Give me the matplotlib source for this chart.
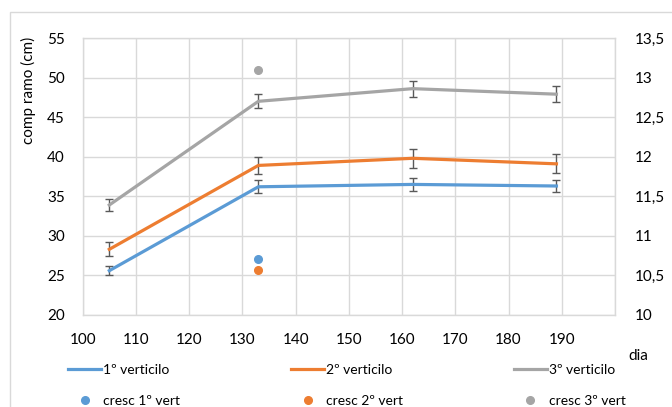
import matplotlib
matplotlib.use("Agg")
import matplotlib.pyplot as plt
from matplotlib.patches import Rectangle
from matplotlib.lines import Line2D

plt.rcParams['font.family'] = ['Lato', 'DejaVu Sans']

# data
dias = [105, 133, 162, 189]
vert1 = [25.6, 36.2, 36.5, 36.3]
vert2 = [28.3, 38.9, 39.8, 39.1]
vert3 = [33.9, 47.0, 48.6, 47.9]
err1 = [0.6, 0.8, 0.8, 0.8]
err2 = [0.9, 1.1, 1.2, 1.2]
err3 = [0.75, 0.9, 1.0, 1.0]

cresc_dia = [133]
cresc1 = [10.71]
cresc2 = [10.57]
cresc3 = [13.09]

left_ticks = [20, 25, 30, 35, 40, 45, 50, 55]
right_ticks = [10, 10.5, 11, 11.5, 12, 12.5, 13, 13.5]
right_labels = ['10', '10,5', '11', '11,5', '12', '12,5', '13', '13,5']
x_ticks = [100, 110, 120, 130, 140, 150, 160, 170, 180, 190, 200]
x_labels = ['100', '110', '120', '130', '140', '150', '160', '170', '180', '190', '']

c1, c2, c3 = '#5B9BD5', '#ED7D31', '#A5A5A5'
grid_c = '#D9D9D9'
txt_c = '#000000'

fig = plt.figure(figsize=(6.72, 4.07), dpi=100)
W, H = 672, 407
ax = fig.add_axes([82.7 / W, 1 - 315 / H, (615 - 82.7) / W, (315 - 38) / H])

# chart border
fig.patches.append(Rectangle((9.5 / W, -0.1), 1.2, 1 - 12 / H + 0.1, transform=fig.transFigure,
                             fill=False, edgecolor='#D9D9D9', linewidth=1.0, zorder=0))

ax.set_xlim(100, 200)
ax.set_ylim(20, 55)
ax.set_xticks(x_ticks)
ax.set_xticklabels(x_labels)
ax.set_yticks(left_ticks)
ax.grid(True, color=grid_c, linewidth=1.0)
ax.set_axisbelow(True)
for s in ax.spines.values():
    s.set_color(grid_c)
    s.set_linewidth(1.0)
ax.tick_params(length=0, labelsize=11, colors=txt_c)
ax.tick_params(axis='y', pad=13)
ax.tick_params(axis='x', pad=13)

ekw = dict(ecolor='#595959', elinewidth=1.0, capsize=3, capthick=1.0)
ax.errorbar(dias, vert1, yerr=err1, color=c1, lw=2.3, **ekw, zorder=3)
ax.errorbar(dias, vert2, yerr=err2, color=c2, lw=2.3, **ekw, zorder=3)
ax.errorbar(dias, vert3, yerr=err3, color=c3, lw=2.3, **ekw, zorder=3)

ax2 = ax.twinx()
ax2.set_ylim(10, 13.5)
ax2.set_yticks(right_ticks)
ax2.set_yticklabels(right_labels)
ax2.tick_params(length=0, labelsize=11, colors=txt_c, pad=14)
for s in ax2.spines.values():
    s.set_visible(False)
ax2.plot(cresc_dia, cresc1, 'o', color=c1, ms=5.5, zorder=4)
ax2.plot(cresc_dia, cresc2, 'o', color=c2, ms=5.5, zorder=4)
ax2.plot(cresc_dia, cresc3, 'o', color=c3, ms=5.5, zorder=4)

fig.text(28 / W, 1 - 90 / H, 'comp ramo (cm)', rotation=90, ha='center', va='center',
         fontsize=11, color=txt_c)
fig.text(638 / W, 1 - 356 / H, 'dia', ha='center', va='center', fontsize=11, color=txt_c)

handles = [
    Line2D([], [], color=c1, lw=2.3),
    Line2D([], [], color=c1, marker='o', ls='none', ms=5.5),
    Line2D([], [], color=c2, lw=2.3),
    Line2D([], [], color=c2, marker='o', ls='none', ms=5.5),
    Line2D([], [], color=c3, lw=2.3),
    Line2D([], [], color=c3, marker='o', ls='none', ms=5.5),
]
labels = ['1º verticilo', 'cresc 1º vert', '2º verticilo', 'cresc 2º vert',
          '3º verticilo', 'cresc 3º vert']
fig.legend(handles, labels, ncol=3, loc='upper left', bbox_to_anchor=(68 / W, 1 - 364 / H),
           frameon=False, fontsize=10, handlelength=2.4, handletextpad=0.15,
           columnspacing=7.95, labelspacing=1.35, borderaxespad=0, borderpad=0)

fig.savefig('out.png', dpi=100)
